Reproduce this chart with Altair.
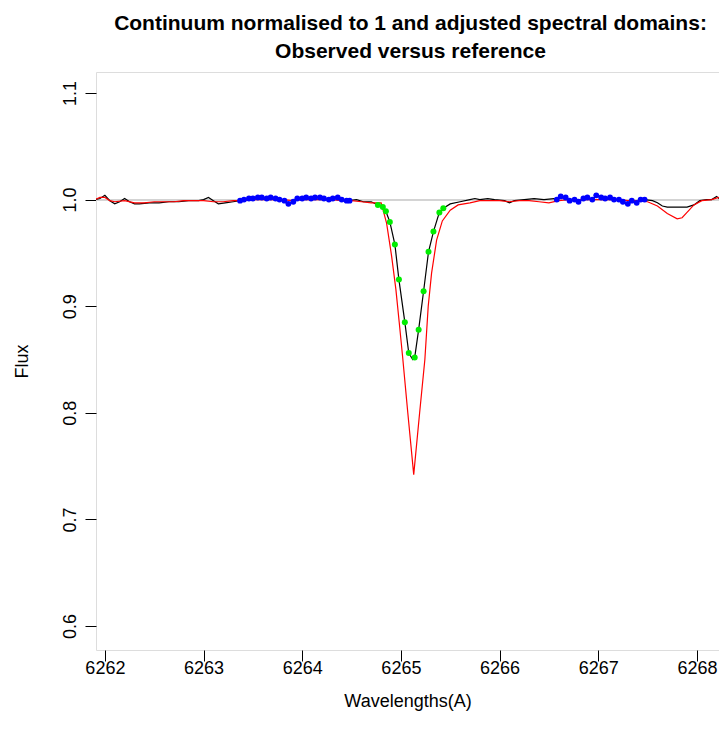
import altair as alt
import pandas as pd

# Observed spectrum (black line)
obs_wl = [6261.90, 6261.95, 6262.00, 6262.05, 6262.10, 6262.15, 6262.20, 6262.25, 6262.30, 6262.35,
          6262.45, 6262.55, 6262.65, 6262.75, 6262.85, 6262.95, 6263.00, 6263.05, 6263.10, 6263.15,
          6263.22, 6263.30, 6263.37, 6263.41, 6263.46, 6263.50, 6263.55, 6263.59, 6263.64, 6263.68,
          6263.73, 6263.77, 6263.82, 6263.86, 6263.91, 6263.95, 6264.00, 6264.04, 6264.09, 6264.13,
          6264.18, 6264.22, 6264.27, 6264.31, 6264.36, 6264.40, 6264.45, 6264.48, 6264.55, 6264.62,
          6264.70, 6264.767, 6264.817, 6264.848, 6264.888, 6264.939, 6264.98, 6265.04, 6265.08, 6265.12,
          6265.14, 6265.18, 6265.23, 6265.28, 6265.33, 6265.39, 6265.43, 6265.50, 6265.60, 6265.70,
          6265.75, 6265.80, 6265.88, 6265.95, 6266.05, 6266.10, 6266.15, 6266.25, 6266.35, 6266.45,
          6266.55, 6266.58, 6266.62, 6266.67, 6266.71, 6266.76, 6266.80, 6266.85, 6266.89, 6266.94,
          6266.98, 6267.03, 6267.07, 6267.12, 6267.16, 6267.21, 6267.25, 6267.30, 6267.34, 6267.39,
          6267.43, 6267.47, 6267.55, 6267.60, 6267.65, 6267.70, 6267.80, 6267.90, 6267.97, 6268.03,
          6268.10, 6268.15, 6268.20, 6268.25, 6268.30]
obs_fx = [1.000, 1.001, 1.004, 0.999, 0.996, 0.998, 1.001, 0.998, 0.996, 0.996,
          0.997, 0.997, 0.998, 0.998, 0.999, 0.999, 1.000, 1.002, 0.999, 0.996,
          0.997, 0.998, 0.999, 1.000, 1.001, 1.001, 1.002, 1.002, 1.001, 1.002,
          1.001, 1.000, 0.999, 0.996, 0.998, 1.001, 1.001, 1.002, 1.001, 1.002,
          1.002, 1.001, 1.000, 1.001, 1.002, 1.000, 0.999, 0.999, 1.000, 0.998,
          0.998, 0.995, 0.993, 0.989, 0.979, 0.958, 0.925, 0.885, 0.856, 0.850,
          0.852, 0.878, 0.914, 0.951, 0.970, 0.988, 0.992, 0.996, 0.998, 1.000,
          1.001, 1.000, 1.001, 1.000, 0.999, 0.997, 0.999, 1.000, 1.001, 1.000,
          1.001, 1.000, 1.003, 1.002, 0.999, 1.000, 0.998, 1.001, 1.002, 1.000,
          1.004, 1.002, 1.001, 1.002, 1.000, 1.000, 0.998, 0.996, 0.999, 0.997,
          1.000, 1.000, 0.999, 0.997, 0.994, 0.993, 0.993, 0.993, 0.995, 0.999,
          1.000, 1.000, 1.003, 0.999, 1.000]

# Reference spectrum (red line)
ref_wl = [6261.90, 6261.95, 6262.00, 6262.05, 6262.10, 6262.20, 6262.30, 6262.40, 6262.50, 6262.60,
          6262.70, 6262.80, 6262.90, 6263.00, 6263.10, 6263.20, 6263.30, 6263.40, 6263.50, 6263.60,
          6263.70, 6263.80, 6263.90, 6264.00, 6264.10, 6264.20, 6264.30, 6264.40, 6264.50, 6264.60,
          6264.70, 6264.80, 6264.855, 6264.906, 6264.949, 6264.983, 6265.017, 6265.07, 6265.13, 6265.19,
          6265.243, 6265.277, 6265.311, 6265.362, 6265.42, 6265.50, 6265.58, 6265.70, 6265.80, 6265.90,
          6266.00, 6266.10, 6266.20, 6266.30, 6266.40, 6266.50, 6266.60, 6266.70, 6266.80, 6266.90,
          6267.00, 6267.10, 6267.20, 6267.30, 6267.40, 6267.50, 6267.60, 6267.70, 6267.80, 6267.85,
          6267.90, 6267.97, 6268.05, 6268.15, 6268.22, 6268.30]
ref_fx = [1.000, 1.002, 1.002, 0.999, 0.998, 0.999, 0.997, 0.997, 0.998, 0.998,
          0.998, 0.999, 0.999, 0.999, 0.998, 0.998, 0.999, 0.999, 1.000, 1.000,
          1.000, 1.000, 0.999, 1.000, 1.000, 1.000, 1.000, 0.999, 0.999, 0.998,
          0.997, 0.997, 0.978, 0.947, 0.916, 0.885, 0.853, 0.800, 0.742, 0.800,
          0.850, 0.900, 0.931, 0.962, 0.980, 0.990, 0.995, 0.997, 0.999, 0.999,
          0.999, 0.998, 0.999, 0.999, 0.998, 0.997, 0.999, 1.000, 1.000, 1.000,
          1.000, 1.000, 1.000, 0.999, 0.999, 0.998, 0.994, 0.987, 0.982, 0.983,
          0.988, 0.995, 0.999, 1.000, 1.002, 1.000]

# Continuum domains (blue points)
cont_wl = [6263.37, 6263.41, 6263.46, 6263.50, 6263.55, 6263.59, 6263.64, 6263.68, 6263.73, 6263.77,
           6263.82, 6263.86, 6263.91, 6263.95, 6264.00, 6264.04, 6264.09, 6264.13, 6264.18, 6264.22,
           6264.27, 6264.31, 6264.36, 6264.40, 6264.45, 6264.48,
           6266.58, 6266.62, 6266.67, 6266.71, 6266.76, 6266.80, 6266.85, 6266.89, 6266.94, 6266.98,
           6267.03, 6267.07, 6267.12, 6267.16, 6267.21, 6267.25, 6267.30, 6267.34, 6267.39, 6267.43,
           6267.47]
cont_fx = [0.999, 1.000, 1.001, 1.001, 1.002, 1.002, 1.001, 1.002, 1.001, 1.000,
           0.999, 0.996, 0.998, 1.001, 1.001, 1.002, 1.001, 1.002, 1.002, 1.001,
           1.000, 1.001, 1.002, 1.000, 0.999, 0.999,
           1.000, 1.003, 1.002, 0.999, 1.000, 0.998, 1.001, 1.002, 1.000, 1.004,
           1.002, 1.001, 1.002, 1.000, 1.000, 0.998, 0.996, 0.999, 0.997, 1.000,
           1.000]

# Line domain (green points)
line_wl = [6264.767, 6264.817, 6264.848, 6264.888, 6264.939, 6264.98, 6265.04, 6265.08, 6265.14,
           6265.18, 6265.23, 6265.28, 6265.33, 6265.39, 6265.43]
line_fx = [0.995, 0.993, 0.989, 0.979, 0.958, 0.925, 0.885, 0.856, 0.852,
           0.878, 0.914, 0.951, 0.970, 0.988, 0.992]

x_ticks = [6262, 6263, 6264, 6265, 6266, 6267, 6268]
y_ticks = [0.6, 0.7, 0.8, 0.9, 1.0, 1.1]

obs = pd.DataFrame({"wl": obs_wl, "flux": obs_fx})
ref = pd.DataFrame({"wl": ref_wl, "flux": ref_fx})
cont = pd.DataFrame({"wl": cont_wl, "flux": cont_fx})
lin = pd.DataFrame({"wl": line_wl, "flux": line_fx})

FONT = "Liberation Sans"
W, H = 623, 578

xs = alt.Scale(domain=[6261.91, 6268.224], nice=False, zero=False)
ys = alt.Scale(domain=[0.5775, 1.1197], nice=False, zero=False)

xaxis = alt.Axis(values=x_ticks, format="d", title="Wavelengths(A)", grid=False,
                 domain=False, tickSize=11, tickColor="black", tickWidth=1,
                 labelFontSize=18, labelFont=FONT, labelColor="black",
                 labelBaseline="alphabetic", labelPadding=12,
                 titleFontSize=18, titleFont=FONT, titleFontWeight="normal",
                 titleColor="black", titleY=56, titleBaseline="alphabetic")
yaxis = alt.Axis(values=y_ticks, format=".1f", title="Flux", grid=False,
                 domain=False, tickSize=11, tickColor="black", tickWidth=1,
                 labelFontSize=18, labelFont=FONT, labelColor="black",
                 labelAngle=270, labelAlign="center", labelBaseline="alphabetic",
                 labelPadding=10,
                 titleFontSize=18, titleFont=FONT, titleFontWeight="normal",
                 titleColor="black", titleAngle=270, titleX=-69, titleY=H / 2,
                 titleAlign="center", titleBaseline="alphabetic")

base_x = alt.X("wl:Q", scale=xs, axis=xaxis)
base_y = alt.Y("flux:Q", scale=ys, axis=yaxis)

gray = alt.Chart(obs).mark_rule(color="#d3d3d3", strokeWidth=1.2).encode(
    y=alt.datum(1.0, scale=ys)
)
black = alt.Chart(obs).mark_line(color="black", strokeWidth=1.2, clip=True).encode(
    x=base_x, y=base_y, order="wl:Q")
red = alt.Chart(ref).mark_line(color="#ff0000", strokeWidth=1.2, clip=True).encode(
    x=base_x, y=base_y, order="wl:Q")
blue = alt.Chart(cont).mark_circle(color="#0000ff", size=34, opacity=1, clip=True).encode(
    x=base_x, y=base_y)
green = alt.Chart(lin).mark_circle(color="#00ee00", size=36, opacity=1, clip=True).encode(
    x=base_x, y=base_y)

chart = alt.layer(gray, black, red, blue, green).properties(
    width=W, height=H,
    autosize=alt.AutoSizeParams(type="none"),
    padding={"left": 88, "top": 64, "right": 0, "bottom": 70},
    title=alt.TitleParams(
        text=["Continuum normalised to 1 and adjusted spectral domains:",
              "Observed versus reference"],
        font=FONT, fontSize=21, fontWeight="bold", color="black",
        anchor="middle", lineHeight=28, offset=10, dx=3),
).configure_view(stroke="black", strokeWidth=1).configure(background="white")

chart.save("out.html", embed_options={"renderer": "svg", "actions": False})
